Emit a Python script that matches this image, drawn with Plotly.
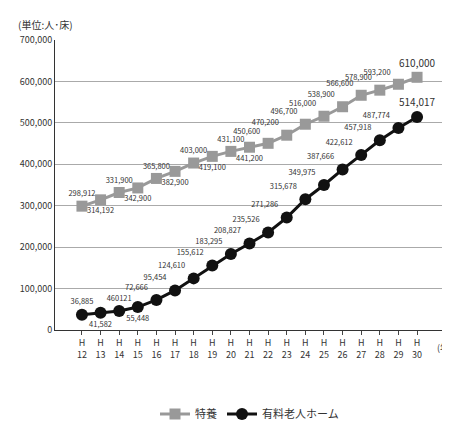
import plotly.graph_objects as go

years = [f"H<br>{n}" for n in range(12, 31)]
tokuyo = [298912, 314192, 331900, 342900, 365800, 382900, 403000, 419100, 431100, 441200,
          450600, 470200, 496700, 516000, 538900, 566600, 578900, 593200, 610000]
yuryo = [36885, 41582, 46012, 55448, 72666, 95454, 124610, 155612, 183295, 208827,
         235526, 271286, 315678, 349975, 387666, 422612, 457918, 487774, 514017]
tokuyo_labels = ["298,912", "314,192", "331,900", "342,900", "365,800", "382,900", "403,000",
                 "419,100", "431,100", "441,200", "450,600", "470,200", "496,700", "516,000",
                 "538,900", "566,600", "578,900", "593,200", "610,000"]
yuryo_labels = ["36,885", "41,582", "460121", "55,448", "72,666", "95,454", "124,610", "155,612",
                "183,295", "208,827", "235,526", "271,286", "315,678", "349,975", "387,666",
                "422,612", "457,918", "487,774", "514,017"]

t_pos = ["top center", "bottom center"] * 5 + ["top left"] * 8 + ["top center"]
y_pos = ["top center", "bottom center", "top center", "bottom center"] + ["top left"] * 14 + ["top center"]
t_size = [7.5] * 18 + [10]
y_size = [7.5] * 18 + [10]

fig = go.Figure()
fig.add_trace(go.Scatter(
    x=years, y=tokuyo, name="特養", mode="lines+markers+text",
    line=dict(color="#999999", width=3),
    marker=dict(symbol="square", size=11, color="#999999"),
    text=tokuyo_labels, textposition=t_pos,
    textfont=dict(size=t_size, color="#333333"), cliponaxis=False))
fig.add_trace(go.Scatter(
    x=years, y=yuryo, name="有料老人ホーム", mode="lines+markers+text",
    line=dict(color="#111111", width=3),
    marker=dict(symbol="circle", size=12, color="#111111"),
    text=yuryo_labels, textposition=y_pos,
    textfont=dict(size=y_size, color="#333333"), cliponaxis=False))

fig.update_layout(
    width=450, height=432,
    margin=dict(l=42, r=14, t=32, b=82),
    paper_bgcolor="white", plot_bgcolor="white",
    font=dict(family="Noto Sans CJK JP", size=10, color="#333333"),
    xaxis=dict(showgrid=False, showline=True, linecolor="#333333", ticks="outside",
               ticklen=4, tickfont=dict(size=9)),
    yaxis=dict(range=[0, 700000], dtick=100000, tickformat=",d", gridcolor="#aaaaaa",
               showline=True, linecolor="#333333", zeroline=False, tickfont=dict(size=9)),
    legend=dict(orientation="h", x=0.5, xanchor="center", y=-0.24, yanchor="top",
                font=dict(size=11)),
    annotations=[
        dict(text="(単位:人･床)", xref="paper", yref="paper", x=-0.1, y=1.02,
             xanchor="left", yanchor="bottom", showarrow=False, font=dict(size=10)),
        dict(text="(年)", xref="paper", yref="paper", x=1.0, y=-0.03,
             xanchor="center", yanchor="top", showarrow=False, font=dict(size=9)),
    ],
)
fig.write_html("out.html")
